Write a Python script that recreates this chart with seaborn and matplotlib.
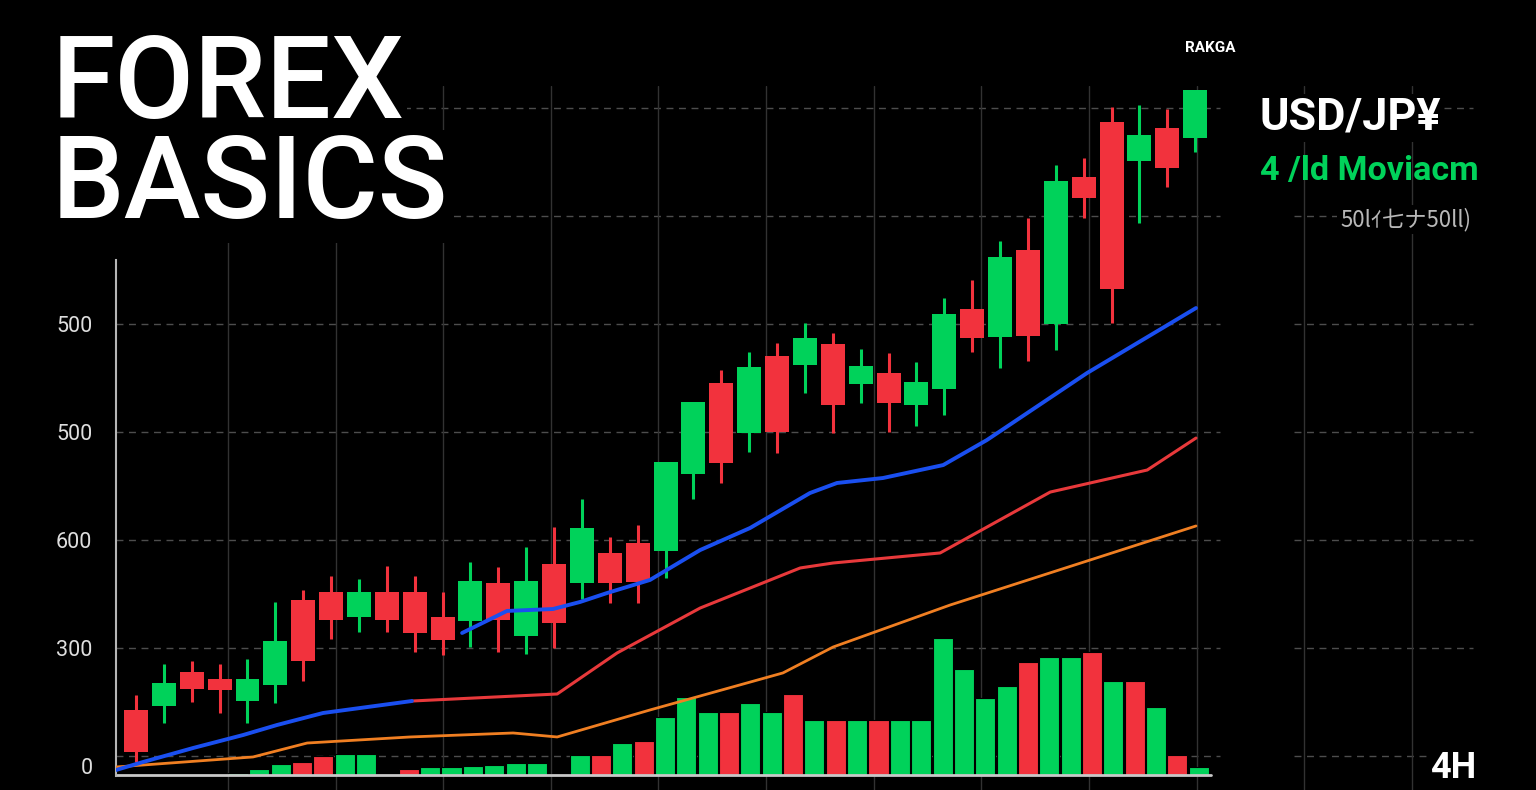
import numpy as np
import pandas as pd
import matplotlib
matplotlib.use("Agg")
import matplotlib.pyplot as plt
import seaborn as sns

# ==========================================
# DATOS (unidades del eje de precio)
# ==========================================
candle_open = [42.6, 46.3, 77.8, 71.3, 50.9, 65.7, 144.4, 151.9, 128.7, 151.9,
               151.9, 128.7, 125.0, 160.2, 111.1, 177.8, 160.2, 188.0, 197.2, 189.8,
               261.1, 345.4, 299.1, 370.4, 362.0, 381.5, 344.4, 354.6, 325.0, 339.8,
               413.9, 388.0, 468.5, 400.0, 536.1, 587.0, 550.9, 581.5, 572.2]
candle_close = [3.7, 67.6, 62.0, 61.1, 71.3, 106.5, 88.0, 125.9, 151.9, 125.9,
                113.9, 107.4, 162.0, 125.9, 162.0, 123.1, 211.1, 160.2, 161.1, 272.2,
                327.8, 271.3, 360.2, 300.0, 387.0, 325.0, 361.1, 326.9, 346.3, 409.3,
                387.0, 462.0, 388.9, 532.4, 516.7, 432.4, 575.0, 544.4, 616.7]
candle_high = [56.5, 85.2, 88.0, 85.2, 89.8, 142.6, 153.7, 166.7, 163.9, 175.9,
               166.7, 151.9, 179.6, 175.0, 193.5, 212.0, 238.0, 202.8, 213.9, 272.2,
               327.8, 357.4, 374.1, 382.4, 400.9, 391.7, 376.9, 373.1, 364.8, 424.1,
               440.7, 476.9, 498.1, 547.2, 553.7, 600.9, 602.8, 599.1, 616.7]
candle_low = [-5.6, 30.6, 50.0, 39.8, 30.6, 49.1, 69.4, 108.3, 114.8, 114.8,
              96.3, 93.5, 100.9, 96.3, 94.4, 100.0, 145.4, 141.7, 141.7, 164.8,
              238.0, 252.8, 281.5, 280.6, 336.1, 299.1, 326.9, 300.0, 305.6, 315.7,
              374.1, 359.3, 365.7, 375.9, 498.1, 400.9, 493.5, 526.9, 559.3]

# medias móviles (x = índice de vela)
blue_x1 = [-0.72, 0.25, 2.05, 3.84, 5.06, 6.71, 9.90]
blue_y1 = [-13.0, -5.6, 7.4, 19.4, 28.7, 39.8, 50.9]
blue_x2 = [11.70, 13.31, 14.96, 15.93, 16.90, 18.44, 20.24, 22.03, 24.18, 25.15,
           26.80, 28.96, 30.53, 34.12, 38.03]
blue_y2 = [113.9, 134.3, 136.1, 142.6, 150.9, 163.0, 190.7, 211.1, 243.5, 252.8,
           257.4, 269.4, 292.6, 354.6, 414.8]
red_x = [9.90, 15.11, 17.26, 20.24, 23.83, 25.01, 28.85, 32.80, 36.28, 38.03]
red_y = [50.9, 57.4, 95.4, 137.0, 174.1, 178.7, 188.0, 244.4, 264.8, 294.4]
orange_x = [-0.72, 4.20, 6.14, 9.83, 13.53, 15.11, 18.44, 23.21, 25.01, 29.21, 38.03]
orange_y = [-10.2, -0.9, 12.0, 17.6, 21.3, 17.6, 42.6, 76.9, 100.9, 139.8, 213.0]

# volumen
volume = [2, 6, 11, 13, 19, 21, 21, 1, 6, 8, 8, 9, 10, 12, 12, 1,
          20, 20, 32, 34, 58, 78, 63, 63, 72, 63, 81, 55, 55, 55, 55, 55, 55,
          137, 106, 77, 89, 113, 118, 118, 123, 94, 94, 68, 20, 8]
volume_dir = list("gggrrgggrggggggr" "grgrgggrggrgrgrggg" "gggrggrgrgrg")

# la etiqueta "0" va un poco más abajo que su línea
ytick_pos = [-9, 100, 200, 300, 400]
ytick_labels = ["0", "300", "600", "500", "500"]

GREEN = "#00d25a"
RED = "#f2323d"
BLUE = "#1a4ff0"
MA_RED = "#e8393b"
ORANGE = "#f07f22"

# ==========================================
# ESTILO
# ==========================================
sns.set_theme(style="dark", rc={"axes.facecolor": "black", "figure.facecolor": "black"})
plt.rcParams["font.family"] = ["Roboto", "DejaVu Sans"]

fig = plt.figure(figsize=(15.36, 7.9), dpi=100, facecolor="black")
rect = [116 / 1536, 0, 1359 / 1536, 704 / 790]
axg = fig.add_axes(rect, facecolor="black")   # rejilla
axv = fig.add_axes(rect, facecolor="none")    # volumen
ax = fig.add_axes(rect, facecolor="none")     # velas + medias

xlim = (-0.7176, 48.04)
ylim = (-31.5, 620.4)
for a in (axg, ax):
    a.set_xlim(xlim)
    a.set_ylim(ylim)

# rejilla
grid_y = np.arange(0, 601, 100)
grid_x = 3.3 + 3.861 * np.arange(12)
for yv in grid_y:
    axg.axhline(yv, xmin=0, xmax=0.812, color="#4d4d4d", lw=1, ls=(0, (5, 4)))
    axg.axhline(yv, xmin=0.867, xmax=0.9985, color="#4d4d4d", lw=1, ls=(0, (5, 4)))
for xv in grid_x:
    axg.axvline(xv, color="#323232", lw=1)

# volumen
vol_df = pd.DataFrame({"bar": range(len(volume)), "vol": volume,
                       "dir": ["up" if d == "g" else "down" for d in volume_dir]})
sns.barplot(data=vol_df, x="bar", y="vol", hue="dir", palette={"up": GREEN, "down": RED},
            dodge=False, width=0.94, saturation=1, edgecolor="black", linewidth=0.8,
            errorbar=None, legend=False, ax=axv)
axv.set_xlim(-5.714, 57.94)
axv.set_ylim(-15, 689)
axv.axhline(0, xmin=0, xmax=0.806, color="#c8c8c8", lw=2)

# velas
idx = np.arange(len(candle_open))
o = np.array(candle_open)
c = np.array(candle_close)
cols = [GREEN if cc >= oo else RED for oo, cc in zip(o, c)]
ax.vlines(idx, candle_low, candle_high, colors=cols, lw=2.2, zorder=2)
ax.bar(idx, np.abs(c - o), bottom=np.minimum(o, c), width=0.86, color=cols,
       edgecolor=cols, linewidth=0, zorder=3)

# medias móviles
sns.lineplot(x=orange_x, y=orange_y, color=ORANGE, lw=2.0, sort=False, estimator=None, ax=ax, zorder=4)
sns.lineplot(x=red_x, y=red_y, color=MA_RED, lw=2.2, sort=False, estimator=None, ax=ax, zorder=4)
sns.lineplot(x=blue_x1, y=blue_y1, color=BLUE, lw=2.8, sort=False, estimator=None, ax=ax, zorder=5)
sns.lineplot(x=blue_x2, y=blue_y2, color=BLUE, lw=2.8, sort=False, estimator=None, ax=ax, zorder=5)
ax.set_xlim(xlim)
ax.set_ylim(ylim)

# ejes
for a in (axg, axv, ax):
    for s in a.spines.values():
        s.set_visible(False)
    a.set_xticks([])
    a.set_xlabel("")
    a.set_ylabel("")
axg.set_yticks([])
axv.set_yticks([])
ax.set_yticks(ytick_pos, ytick_labels)
ax.tick_params(axis="y", length=0, pad=17, labelsize=15.5, labelcolor="#dedede")
ax.spines["left"].set_visible(True)
ax.spines["left"].set_bounds(-18.5, 459.3)
ax.spines["left"].set_color("#b5b5b5")
ax.spines["left"].set_linewidth(1.5)

# textos
box = dict(facecolor="black", edgecolor="none", pad=2)
fig.text(52 / 1536, 1 - 118 / 790, "FOREX", fontsize=83, color="white", weight="medium",
         ha="left", va="baseline", bbox=box)
fig.text(52 / 1536, 1 - 218 / 790, "BASICS", fontsize=83, color="white", weight="medium",
         ha="left", va="baseline", bbox=box)
fig.text(1259 / 1536, 1 - 130 / 790, "USD/JP¥", fontsize=32.4, color="white", weight="bold",
         ha="left", va="baseline", bbox=box)
fig.text(1260 / 1536, 1 - 180 / 790, "4 /ld Moviacm", fontsize=24.6, color=GREEN, weight="bold",
         ha="left", va="baseline")
fig.text(1340 / 1536, 1 - 226 / 790, "50lｲ七ナ50ll)", fontsize=16, color="#b8b8b8",
         family=["Noto Sans CJK JP", "DejaVu Sans"], ha="left", va="baseline", bbox=box)
fig.text(1185 / 1536, 1 - 52 / 790, "RAKGA", fontsize=11, color="white", weight="bold",
         ha="left", va="baseline")
fig.text(1430 / 1536, 1 - 778 / 790, "4H", fontsize=26, color="white", weight="bold",
         ha="left", va="baseline", bbox=box)

fig.savefig("out.png", dpi=100, facecolor="black")
